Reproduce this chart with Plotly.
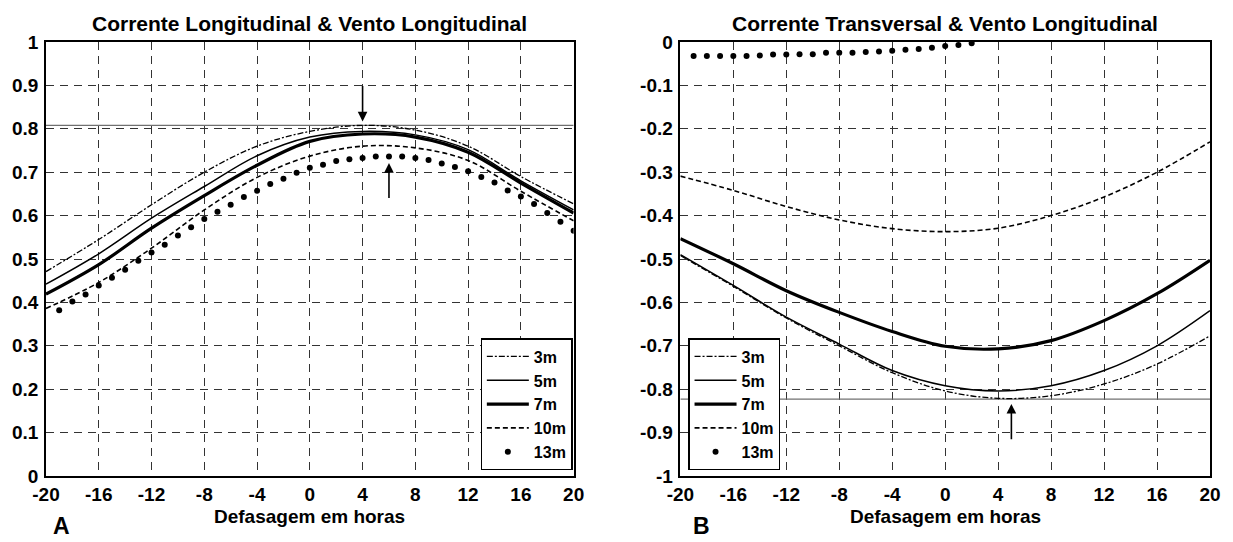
import plotly.graph_objects as go

# ---------------- data ----------------
hours4 = [-20, -16, -12, -8, -4, 0, 4, 8, 12, 16, 20]

# Panel A: Corrente Longitudinal & Vento Longitudinal
a_3m = [0.471, 0.545, 0.625, 0.700, 0.760, 0.794, 0.808, 0.797, 0.760, 0.690, 0.627]
a_5m = [0.442, 0.512, 0.594, 0.667, 0.738, 0.781, 0.794, 0.786, 0.752, 0.680, 0.613]
a_7m = [0.419, 0.487, 0.571, 0.646, 0.716, 0.771, 0.788, 0.781, 0.746, 0.675, 0.606]
a_10m = [0.386, 0.446, 0.525, 0.613, 0.688, 0.737, 0.760, 0.756, 0.727, 0.656, 0.588]
a_13m_hours = list(range(-19, 21))
a_13m = [0.382, 0.402, 0.418, 0.439, 0.457, 0.475, 0.496, 0.515, 0.533, 0.554,
         0.573, 0.592, 0.609, 0.625, 0.643, 0.657, 0.673, 0.685, 0.699, 0.710,
         0.717, 0.726, 0.730, 0.733, 0.736, 0.736, 0.736, 0.733, 0.728, 0.720,
         0.712, 0.702, 0.689, 0.676, 0.658, 0.644, 0.627, 0.606, 0.586, 0.565]
a_ref = 0.808
a_arrow_down = (4, 0.902, 0.817)   # x, tail, tip
a_arrow_up = (6, 0.637, 0.721)

# Panel B: Corrente Transversal & Vento Longitudinal
b_3m = [-0.492, -0.563, -0.636, -0.700, -0.762, -0.804, -0.821, -0.815, -0.788, -0.742, -0.677]
b_5m = [-0.490, -0.561, -0.634, -0.696, -0.757, -0.792, -0.804, -0.792, -0.757, -0.700, -0.619]
b_7m = [-0.453, -0.511, -0.573, -0.623, -0.667, -0.701, -0.707, -0.688, -0.642, -0.580, -0.503]
b_10m = [-0.309, -0.342, -0.379, -0.410, -0.430, -0.437, -0.429, -0.400, -0.357, -0.300, -0.230]
b_13m_hours = list(range(-19, 3))
b_13m = [-0.032, -0.032, -0.032, -0.032, -0.032, -0.031, -0.029, -0.029, -0.028, -0.028,
         -0.025, -0.025, -0.025, -0.023, -0.022, -0.020, -0.018, -0.016, -0.013, -0.009,
         -0.007, -0.003]
b_ref = -0.823
b_arrow_up = (5, -0.919, -0.834)

x_ticks = [-20, -16, -12, -8, -4, 0, 4, 8, 12, 16, 20]
x_tick_text = ["-20", "-16", "-12", "-8", "-4", "0", "4", "8", "12", "16", "20"]
a_yticks = [0, 0.1, 0.2, 0.3, 0.4, 0.5, 0.6, 0.7, 0.8, 0.9, 1]
a_ytick_text = ["0", "0.1", "0.2", "0.3", "0.4", "0.5", "0.6", "0.7", "0.8", "0.9", "1"]
b_yticks = [0, -0.1, -0.2, -0.3, -0.4, -0.5, -0.6, -0.7, -0.8, -0.9, -1]
b_ytick_text = ["0", "-0.1", "-0.2", "-0.3", "-0.4", "-0.5", "-0.6", "-0.7", "-0.8", "-0.9", "-1"]

titles = ["Corrente Longitudinal & Vento Longitudinal", "Corrente Transversal & Vento Longitudinal"]
xlabel = "Defasagem em horas"
panel_labels = ["A", "B"]
series_names = ["3m", "5m", "7m", "10m", "13m"]

# ---------------- figure ----------------
FONT = "Liberation Sans, Arial, sans-serif"
fig = go.Figure()

styles = [
    dict(color="black", width=1.3, dash="6px,2px,2px,2px"),
    dict(color="black", width=1.5),
    dict(color="black", width=3.2),
    dict(color="black", width=1.6, dash="5px,3px"),
]

def add_panel(xa, ya, legend, lines, dot_x, dot_y, ref):
    fig.add_trace(go.Scatter(x=[x_ticks[0], x_ticks[-1]], y=[ref, ref], mode="lines",
                             line=dict(color="#707070", width=1.2), showlegend=False,
                             xaxis=xa, yaxis=ya, hoverinfo="skip"))
    for name, vals, st in zip(series_names[:4], lines, styles):
        fig.add_trace(go.Scatter(x=hours4, y=vals, mode="lines", name=name,
                                 line=dict(shape="spline", smoothing=1.0, **st),
                                 xaxis=xa, yaxis=ya, legend=legend))
    fig.add_trace(go.Scatter(x=dot_x, y=dot_y, mode="markers", name=series_names[4],
                             marker=dict(color="black", size=6),
                             xaxis=xa, yaxis=ya, legend=legend))

add_panel("x", "y", "legend", [a_3m, a_5m, a_7m, a_10m], a_13m_hours, a_13m, a_ref)
add_panel("x2", "y2", "legend2", [b_3m, b_5m, b_7m, b_10m], b_13m_hours, b_13m, b_ref)

axis_common = dict(
    showline=True, linecolor="black", linewidth=1.5, mirror=True,
    showgrid=True, gridcolor="#333333", gridwidth=1, griddash="8px,6px",
    zeroline=False, ticks="",
    tickfont=dict(family=FONT, size=19, color="black", weight="bold"),
)

W, H = 1233, 542
L, R, T, B = 44, 22, 42, 66
pw = W - L - R
leg_font = dict(family=FONT, size=16, color="black", weight="bold")
fig.update_layout(
    width=W, height=H,
    margin=dict(l=L, r=R, t=T, b=B),
    paper_bgcolor="white", plot_bgcolor="white",
    font=dict(family=FONT, color="black"),
    xaxis=dict(domain=[0, (573 - L) / pw], range=[-20, 20], tickvals=x_ticks, ticktext=x_tick_text,
               anchor="y", ticklabelstandoff=0, **axis_common),
    yaxis=dict(domain=[0, 1], range=[0, 1], tickvals=a_yticks, ticktext=a_ytick_text, anchor="x",
               ticklabelstandoff=2, **axis_common),
    xaxis2=dict(domain=[(680 - L) / pw, 1], range=[-20, 20], tickvals=x_ticks, ticktext=x_tick_text,
                anchor="y2", ticklabelstandoff=0, **axis_common),
    yaxis2=dict(domain=[0, 1], range=[-1, 0], tickvals=b_yticks, ticktext=b_ytick_text, anchor="x2",
                ticklabelstandoff=2, **axis_common),
    legend=dict(x=(572 - L) / pw, xanchor="right", y=0.013, yanchor="bottom",
                bgcolor="white", bordercolor="black", borderwidth=1.2,
                font=leg_font, tracegroupgap=0, itemwidth=42),
    legend2=dict(x=(688 - L) / pw, xanchor="left", y=0.013, yanchor="bottom",
                 bgcolor="white", bordercolor="black", borderwidth=1.2,
                 font=leg_font, tracegroupgap=0, itemwidth=42),
    showlegend=True,
)

# titles, axis labels, panel letters
xa_dom = [fig.layout.xaxis.domain, fig.layout.xaxis2.domain]
for i in range(2):
    cx = (xa_dom[i][0] + xa_dom[i][1]) / 2
    fig.add_annotation(x=cx, y=1, xref="paper", yref="paper", xanchor="center", yanchor="bottom",
                       yshift=5, text=titles[i], showarrow=False,
                       font=dict(family=FONT, size=21, color="black", weight="bold"))
    fig.add_annotation(x=cx, y=-0.094, xref="paper", yref="paper", xanchor="center", yanchor="middle",
                       text=xlabel, showarrow=False, borderpad=0,
                       font=dict(family=FONT, size=19, color="black", weight="bold"))
px_letter = [(60 - L) / pw, (701 - L) / pw]
for i in range(2):
    fig.add_annotation(x=px_letter[i], y=-0.116, xref="paper", yref="paper",
                       xanchor="center", yanchor="middle", text=panel_labels[i], showarrow=False,
                       borderpad=0,
                       font=dict(family=FONT, size=23, color="black", weight="bold"))

# arrows
def arrow(xref, yref, spec):
    x, tail, tip = spec
    fig.add_annotation(x=x, y=tip, ax=x, ay=tail, xref=xref, yref=yref, axref=xref, ayref=yref,
                       showarrow=True, arrowhead=2, arrowsize=1.2, arrowwidth=1.6,
                       arrowcolor="black", text="")

arrow("x", "y", a_arrow_down)
arrow("x", "y", a_arrow_up)
arrow("x2", "y2", b_arrow_up)

fig.write_html("out.html")
